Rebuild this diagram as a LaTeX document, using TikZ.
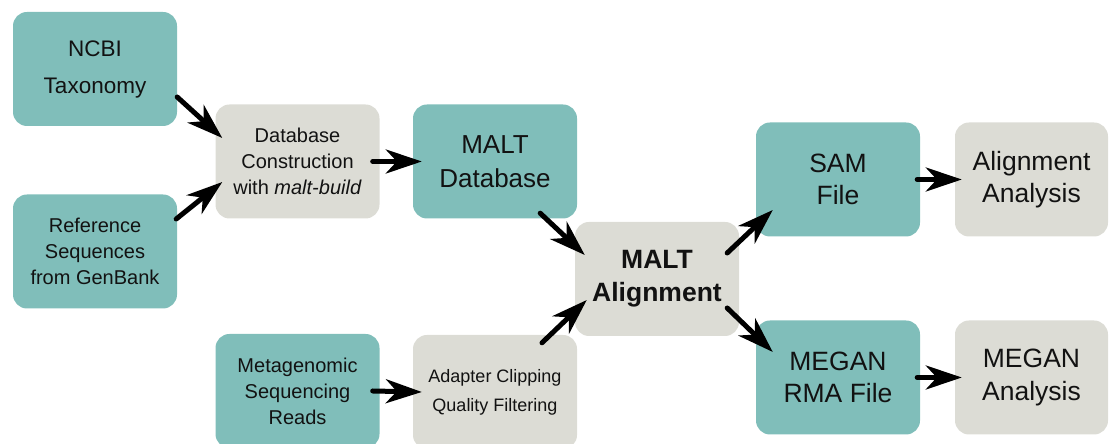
\documentclass[tikz,border=0pt]{standalone}
\usepackage{fontspec}
\setmainfont{Liberation Sans}
\usetikzlibrary{arrows.meta}
\definecolor{boxteal}{HTML}{80BEBA}
\definecolor{boxgray}{HTML}{DCDCD5}
\newcommand{\fsz}[2]{\fontsize{#1}{#2}\selectfont}
\begin{document}
\begin{tikzpicture}[x=1pt,y=1pt,
    stepbase/.style={rounded corners=14pt,minimum width=164pt,minimum height=114pt,
      inner sep=0pt,align=center,text=black!93},
    tealbox/.style={stepbase,fill=boxteal},
    graybox/.style={stepbase,fill=boxgray},
    flow/.style={line width=5pt,line cap=round,-{Stealth[length=36pt,width=24pt,inset=11pt]}}]
\useasboundingbox (0,0) rectangle (1109,444);
% input
\node[tealbox,font=\fsz{22.5}{37}] (ncbi) at (95,375) {NCBI\\Taxonomy};
\node[tealbox,font=\fsz{20}{26}] (refseq) at (95,192.5) {Reference\\Sequences\\from GenBank};
\node[graybox,font=\fsz{20}{26}] (dbbuild) at (297.5,282.5) {Database\\Construction\\with \emph{malt-build}};
\node[tealbox,font=\fsz{20}{26}] (reads) at (297.5,53) {Metagenomic\\Sequencing\\Reads};
\node[tealbox,font=\fsz{26}{34}] (maltdb) at (495,282.5) {MALT\\Database};
\node[graybox,font=\fsz{18}{29}] (clip) at (495,52) {Adapter Clipping\\Quality Filtering};
% core
\node[graybox,font=\fsz{26.5}{33}\bfseries] (align) at (657,165) {MALT\\Alignment};
% output
\node[tealbox,font=\fsz{26.5}{32.5}] (sam) at (838,264.5) {SAM\\File};
\node[tealbox,font=\fsz{26.5}{32.5}] (rma) at (838,66.5) {MEGAN\\RMA File};
\node[graybox,font=\fsz{26.5}{32.5},minimum width=153pt] (alnan) at (1031.5,264.5) {Alignment\\Analysis};
\node[graybox,font=\fsz{26.5}{32.5},minimum width=153pt] (megan) at (1031.5,66.5) {MEGAN\\Analysis};
\draw[flow] ([shift={(0,-28)}]ncbi.east) -- ([shift={(7,23.5)}]dbbuild.west);
\draw[flow] ([shift={(-1,32.5)}]refseq.east) -- ([shift={(7,-20.5)}]dbbuild.west);
\draw[flow] ([xshift=-7]dbbuild.east) -- ([xshift=9]maltdb.west);
\draw[flow] ([xshift=-7]reads.east) -- ([xshift=9]clip.west);
\draw[flow] ([shift={(-37,5.5)}]maltdb.south east) -- ([shift={(10,24)}]align.west);
\draw[flow] ([shift={(47,-8)}]clip.north) -- ([shift={(12,-21)}]align.west);
\draw[flow] ([shift={(-12,26)}]align.east) -- ([shift={(17,-30.5)}]sam.west);
\draw[flow] ([shift={(-12,-29)}]align.east) -- ([shift={(17,25.5)}]rma.west);
\draw[flow] ([xshift=-3]sam.east) -- ([xshift=7]alnan.west);
\draw[flow] ([xshift=-3]rma.east) -- ([xshift=7]megan.west);
\end{tikzpicture}
\end{document}
